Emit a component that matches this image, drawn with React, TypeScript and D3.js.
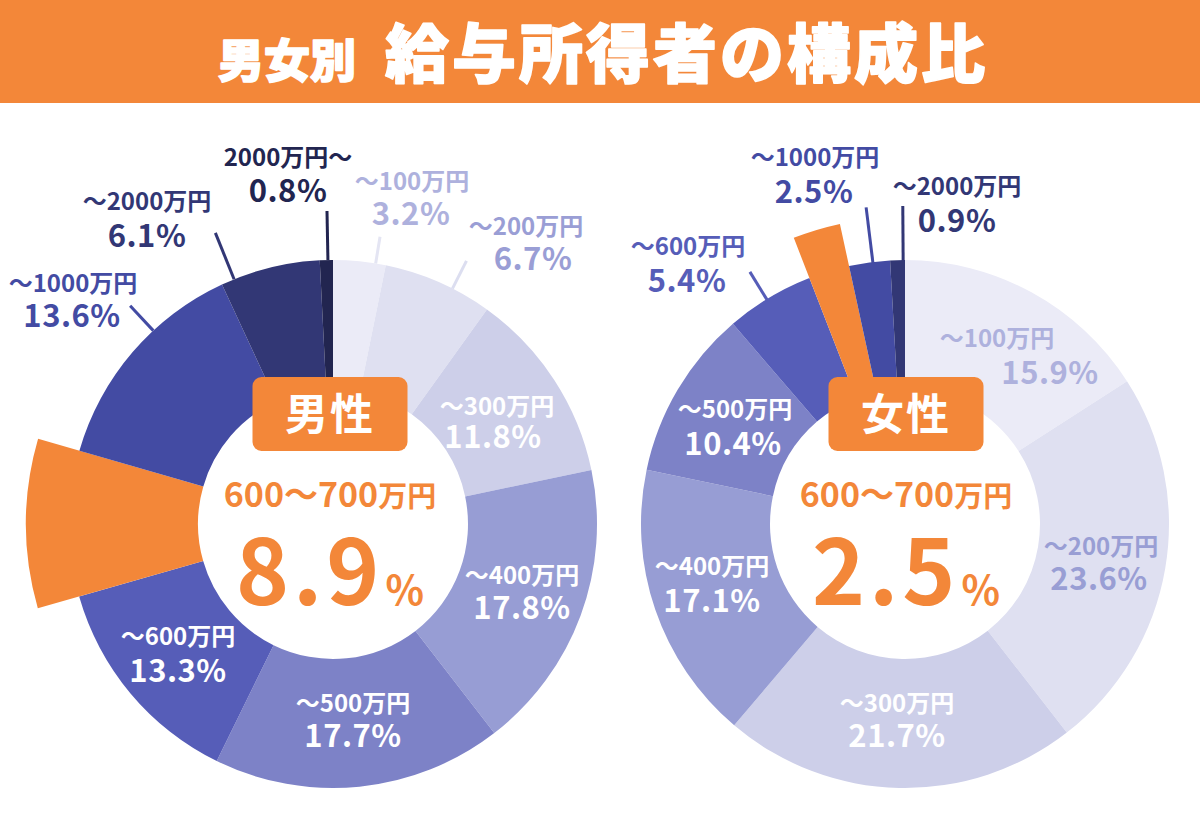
import React from "react";
import * as d3 from "d3";

// ---------- data ----------
const maleCategories = ["～100万円", "～200万円", "～300万円", "～400万円", "～500万円", "～600万円", "～700万円", "～1000万円", "～2000万円", "2000万円～"];
const maleValues = [3.2, 6.7, 11.8, 17.8, 17.7, 13.3, 8.9, 13.6, 6.1, 0.8];
const femaleCategories = ["～100万円", "～200万円", "～300万円", "～400万円", "～500万円", "～600万円", "～700万円", "～1000万円", "～2000万円"];
const femaleValues = [15.9, 23.6, 21.7, 17.1, 10.4, 5.4, 2.5, 2.5, 0.9];
const highlightLabel = "600～700万円";
const highlightIndex = 6;
const titleSmall = "男女別";
const titleLarge = "給与所得者の構成比";

// ---------- styles / layout ----------
const sliceColors = ["#ebebf7", "#dfe0f1", "#cdcfe9", "#979dd4", "#7d82c7", "#565db8", "#f38739", "#434ba3", "#323775", "#222550"];
const ORANGE = "#f38739";
const FONT = "'Noto Sans CJK JP','Noto Sans',sans-serif";
const R_IN = 135;
const R_OUT = 264;
const R_HI = 307;

type LabelLayout = {
  x1: number; x2: number; b1: number; b2: number; color: string;
  line?: { a: number; r1: number; r2: number; color: string };
} | null;

const maleLayout: LabelLayout[] = [
  { x1: 412, x2: 411, b1: 190, b2: 225, color: "#aeb1dd", line: { a: 9.3, r1: 264, r2: 291, color: "#e4e5f3" } },
  { x1: 526, x2: 533, b1: 235, b2: 270, color: "#9a9ed5", line: { a: 26.9, r1: 264, r2: 295, color: "#dcdef0" } },
  { x1: 497, x2: 493, b1: 415, b2: 448, color: "#ffffff" },
  { x1: 522, x2: 522, b1: 584, b2: 619, color: "#ffffff" },
  { x1: 353, x2: 353, b1: 712, b2: 747, color: "#ffffff" },
  { x1: 178, x2: 178, b1: 645, b2: 682, color: "#ffffff" },
  null,
  { x1: 73, x2: 72, b1: 292, b2: 327, color: "#434ba3", line: { a: -42.9, r1: 264, r2: 298, color: "#434ba3" } },
  { x1: 147, x2: 147, b1: 210, b2: 247, color: "#323775", line: { a: -22, r1: 264, r2: 314, color: "#323775" } },
  { x1: 288, x2: 288, b1: 166, b2: 202, color: "#222550", line: { a: -1.1, r1: 264, r2: 313, color: "#222550" } },
];

const femaleLayout: LabelLayout[] = [
  { x1: 997, x2: 1050, b1: 347, b2: 384, color: "#aeb1dd" },
  { x1: 1101, x2: 1099, b1: 555, b2: 590, color: "#999ed4" },
  { x1: 897, x2: 897, b1: 712, b2: 747, color: "#ffffff" },
  { x1: 712, x2: 712, b1: 575, b2: 612, color: "#ffffff" },
  { x1: 735, x2: 733, b1: 418, b2: 455, color: "#ffffff" },
  { x1: 688, x2: 687, b1: 255, b2: 292, color: "#565db8", line: { a: -31.6, r1: 262, r2: 296, color: "#565db8" } },
  null,
  { x1: 815, x2: 814, b1: 166, b2: 203, color: "#434ba3", line: { a: -7.0, r1: 263, r2: 319, color: "#434ba3" } },
  { x1: 957, x2: 957, b1: 195, b2: 232, color: "#323775", line: { a: -0.4, r1: 262, r2: 318, color: "#323775" } },
];

type DonutProps = {
  cx: number; cy: number; textX: number;
  categories: string[]; values: number[]; layout: LabelLayout[]; sex: string;
};

function Donut({ cx, cy, textX, categories, values, layout, sex }: DonutProps) {
  const pie = d3.pie<number>().sort(null).value((d) => d).startAngle(0).endAngle(2 * Math.PI);
  const arcs = pie(values);
  const arcN = d3.arc<d3.PieArcDatum<number>>().innerRadius(R_IN).outerRadius(R_OUT);
  const arcH = d3.arc<d3.PieArcDatum<number>>().innerRadius(R_IN).outerRadius(R_HI);
  const pt = (a: number, r: number) => {
    const rad = (a * Math.PI) / 180;
    return [cx + r * Math.sin(rad), cy - r * Math.cos(rad)];
  };
  return (
    <g>
      <g transform={`translate(${cx},${cy})`}>
        {arcs.map((d, i) => (
          <path key={i} d={(i === highlightIndex ? arcH(d) : arcN(d)) || ""} fill={sliceColors[i]} />
        ))}
      </g>
      {layout.map((l, i) => {
        if (!l || !l.line) return null;
        const [x1, y1] = pt(l.line.a, l.line.r1);
        const [x2, y2] = pt(l.line.a, l.line.r2);
        return <line key={"l" + i} x1={x1} y1={y1} x2={x2} y2={y2} stroke={l.line.color} strokeWidth={3} />;
      })}
      {layout.map((l, i) => {
        if (!l) return null;
        return (
          <text key={"t" + i} fill={l.color} fontFamily={FONT} fontWeight={700} textAnchor="middle">
            <tspan x={l.x1} y={l.b1} fontSize={24}>{categories[i]}</tspan>
            <tspan x={l.x2} y={l.b2} fontSize={31} letterSpacing={0.5}>{values[i].toFixed(1)}%</tspan>
          </text>
        );
      })}
      <rect x={textX - 77.5} y={377} width={155} height={74} rx={9} fill={ORANGE} />
      <text x={textX} y={430} fontFamily={FONT} fontWeight={700} fontSize={43} fill="#ffffff" textAnchor="middle" letterSpacing={2}>{sex}</text>
      <text fontFamily={FONT} fontWeight={700} fill={ORANGE} textAnchor="middle">
        <tspan x={textX} y={507} fontSize={34}>{highlightLabel.slice(0, 7)}</tspan>
        <tspan fontSize={29}>{highlightLabel.slice(7)}</tspan>
        <tspan x={textX} y={605} fontSize={90} letterSpacing={4}>{values[highlightIndex].toFixed(1)}</tspan>
        <tspan fontSize={40} dx={2}>%</tspan>
      </text>
    </g>
  );
}

export default function App() {
  return (
    <svg width={1200} height={813} viewBox="0 0 1200 813" style={{ position: "absolute", left: 0, top: 0, background: "#ffffff" }}>
      <rect x={0} y={0} width={1200} height={103} fill={ORANGE} />
      <text y={77} fontFamily={FONT} fontWeight={900} fill="#ffffff" stroke="#ffffff" strokeWidth={1.6} strokeLinejoin="round">
        <tspan x={218} fontSize={46} letterSpacing={0}>{titleSmall}</tspan>
        <tspan x={385} fontSize={64} letterSpacing={3}>{titleLarge}</tspan>
      </text>
      <Donut cx={333} cy={524} textX={330} categories={maleCategories} values={maleValues} layout={maleLayout} sex="男性" />
      <Donut cx={905} cy={524} textX={906} categories={femaleCategories} values={femaleValues} layout={femaleLayout} sex="女性" />
    </svg>
  );
}
